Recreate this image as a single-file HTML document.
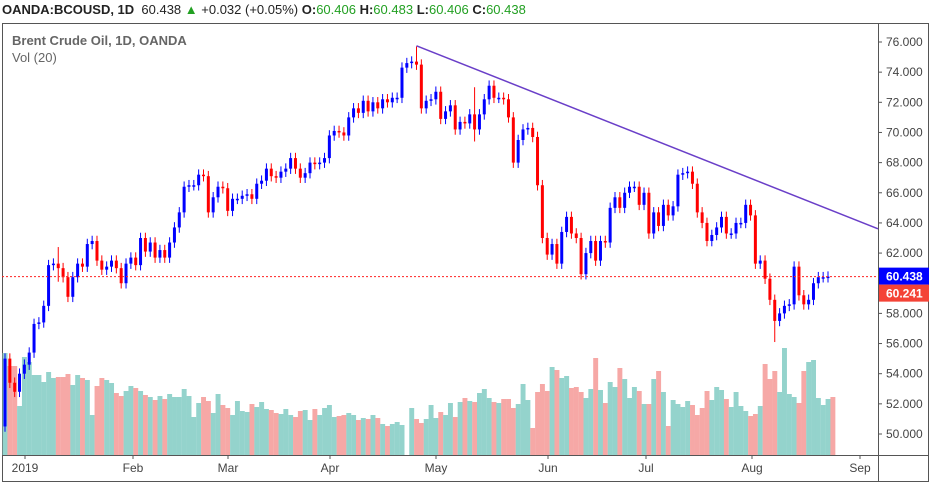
<!DOCTYPE html>
<html><head><meta charset="utf-8">
<style>
body{margin:0;background:#fff;width:933px;height:489px;overflow:hidden;font-family:"Liberation Sans",sans-serif;}
#hdr{position:absolute;left:2px;top:2px;font-size:13px;color:#222;white-space:nowrap;}
#hdr b{font-weight:bold}
#hdr .g{color:#22a022}
svg{position:absolute;left:0;top:0}
</style></head><body>
<div id="hdr"><b>OANDA:BCOUSD, 1D</b>&nbsp; 60.438 <span class="g">▲</span> +0.032 (+0.05%) <b>O:</b><span class="g">60.406</span> <b>H:</b><span class="g">60.483</span> <b>L:</b><span class="g">60.406</span> <b>C:</b><span class="g">60.438</span></div>
<svg id="chart" width="933" height="489"></svg>
<script>
const firstOpen = 50.5;
const closes = [55.0,53.4,52.8,54.0,54.6,55.4,57.3,57.4,58.5,61.2,61.3,61.0,60.4,59.1,60.4,61.3,61.1,62.6,62.8,61.5,60.9,61.1,61.5,61.0,60.0,61.3,61.7,61.2,63.0,62.1,62.7,61.7,62.2,61.7,62.7,63.7,64.7,66.4,66.5,66.5,67.2,67.1,64.7,
65.7,66.4,66.3,64.8,65.6,65.6,65.8,65.9,65.6,66.6,66.8,67.6,67.1,67.0,67.4,67.6,68.3,67.6,67.0,67.3,68.0,67.9,68.0,68.3,69.8,70.1,70.0,69.8,71.0,71.6,71.3,72.1,71.4,72.0,71.6,72.2,72.0,72.3,72.3,74.3,74.6,74.7,74.5,
71.6,72.1,72.2,72.7,70.9,71.4,71.8,70.2,70.7,70.6,71.2,70.2,71.2,72.2,73.1,72.3,72.3,72.2,71.0,68.0,69.5,70.2,70.3,69.7,66.5,63.0,61.9,62.6,61.3,63.4,64.4,63.3,63.0,60.6,62.0,62.8,61.5,62.8,62.7,65.0,65.7,65.0,66.0,66.4,66.4,65.2,66.0,63.3,64.7,63.8,65.2,64.5,65.1,67.2,67.3,67.4,66.6,64.7,64.0,62.8,63.2,63.7,64.4,63.3,63.3,64.0,64.0,65.2,64.5,61.3,61.5,60.3,58.9,57.5,58.0,58.5,58.6,61.1,59.2,58.6,58.9,60.0,60.4,60.4,60.44];
const volumes = [102,89,89,49,98,93,80,80,73,83,77,78,78,81,70,80,77,75,40,69,77,75,72,62,59,64,69,67,64,60,58,55,59,56,61,58,58,66,59,38,52,58,54,42,61,50,47,40,54,44,43,51,48,53,46,45,42,41,46,40,38,44,45,35,46,40,47,50,38,39,40,42,40,35,37,36,40,37,31,29,31,33,30,0,47,36,32,36,50,37,43,40,52,38,53,57,
54,53,62,66,57,53,52,56,56,47,51,71,55,27,63,71,64,88,85,77,79,67,68,63,57,66,97,65,52,73,68,87,76,57,68,64,51,51,76,84,63,29,55,51,48,54,50,40,47,64,55,68,65,56,48,63,49,44,39,41,49,91,76,84,63,107,61,58,52,84,93,95,57,50,56,58];
// notable wick extremes: [bar index, high, low]
const wickExtremes = [[85,75.7,74.2],[159,57.6,56.1],[11,62.4,60.1],[97,73.0,69.4]];
const priceTicks = [76,74,72,70,68,66,64,62,58,56,54,52,50];
const timeLabels = ["2019","Feb","Mar","Apr","May","Jun","Jul","Aug","Sep"];
const timeLabelX = [25,133,228,330,436,548,646,752,860];
const lastPrice = 60.438, prevPrice = 60.241;
const trendStart = [85, 75.75], trendEnd = [180.4, 63.6]; // [bar index, price]

const NS="http://www.w3.org/2000/svg", svg=document.getElementById('chart');
const X0=5, DX=(828-5)/(closes.length-1);
const xAt=i=>X0+i*DX;
const yAt=p=>42+(76-p)*15.077;
const volBase=455;
function el(t,a,parent){const e=document.createElementNS(NS,t);for(const k in a)e.setAttribute(k,a[k]);(parent||svg).appendChild(e);return e;}

const fr=el('rect',{x:2.5,y:23.5,width:926,height:458,fill:'none',stroke:'#555'});


const sep=el('line',{x1:878.5,y1:23,x2:878.5,y2:482,stroke:'#555'});


const tb=el('line',{x1:2,y1:455.5,x2:929,y2:455.5,stroke:'#555'});



const gv=el('g',{});


volumes.forEach((v,i)=>{
  const o=i?closes[i-1]:firstOpen, c=closes[i];
  const r=el('rect',{x:(xAt(i)-DX/2).toFixed(2),y:volBase-v,width:DX+0.1,height:v,fill:c>=o?'#94d3cc':'#f6a8a6'},gv);
  
  
});

const gc=el('g',{});


closes.forEach((c,i)=>{
  const o=i?closes[i-1]:firstOpen;
  const up=c>=o, col=up?'#0000ff':'#ff0000';
  let hi=Math.max(o,c)+0.35, lo=Math.min(o,c)-0.35;
  wickExtremes.forEach(w=>{if(w[0]===i){hi=Math.max(hi,w[1]);lo=Math.min(lo,w[2]);}});
  const x=xAt(i);
  const w=el('line',{x1:x,x2:x,y1:yAt(hi),y2:yAt(lo),stroke:col,'stroke-width':1},gc);
  
  
  const top=yAt(Math.max(o,c)), h=Math.max(1.5,yAt(Math.min(o,c))-top);
  const b=el('rect',{x:x-1.5,y:top,width:3,height:h,fill:col},gc);
  
  
});

const x1=xAt(trendStart[0]),y1=yAt(trendStart[1]),x2=xAt(trendEnd[0]),y2=yAt(trendEnd[1]);
const slope=(y2-y1)/(x2-x1);
const tl=el('line',{x1:x1,y1:y1,x2:878,y2:y1+slope*(878-x1),stroke:'#6a3fc8','stroke-width':1.5});



const lp=el('line',{x1:2,x2:878,y1:yAt(lastPrice),y2:yAt(lastPrice),stroke:'#ff2020','stroke-dasharray':'2 2'});



priceTicks.forEach(p=>{
  const y=yAt(p);
  const t=el('line',{x1:878,x2:882,y1:y,y2:y,stroke:'#555'});
  
  
  const tx=el('text',{x:886,y:y+4,'font-size':12,fill:'#444','font-family':'Liberation Sans, sans-serif'});
  tx.textContent=p.toFixed(3);
  
  
});
[[lastPrice,'#0000ff',yAt(lastPrice)-9,'last-price-label'],[prevPrice,'#f44336',yAt(lastPrice)+8,'prev-close-label']].forEach(a=>{
  const r=el('rect',{x:879,y:a[2],width:50,height:17,fill:a[1]});
  
  
  const t=el('text',{x:886,y:a[2]+13,'font-size':12,'font-weight':'bold',fill:'#fff','font-family':'Liberation Sans, sans-serif'});
  t.textContent=a[0].toFixed(3);
  
  
});
timeLabels.forEach((s,i)=>{
  const x=timeLabelX[i];
  const t=el('line',{x1:x,x2:x,y1:455,y2:459,stroke:'#555'});
  
  
  const tx=el('text',{x:x,y:472,'font-size':12,fill:'#444','text-anchor':'middle','font-family':'Liberation Sans, sans-serif'});
  tx.textContent=s;
  
  
});
const l1=el('text',{x:12,y:45,'font-size':13,'font-weight':'bold',fill:'#666','font-family':'Liberation Sans, sans-serif'});
l1.textContent='Brent Crude Oil, 1D, OANDA';


const l2=el('text',{x:12,y:62,'font-size':13,fill:'#666','font-family':'Liberation Sans, sans-serif'});
l2.textContent='Vol (20)';


</script>
</body></html>
